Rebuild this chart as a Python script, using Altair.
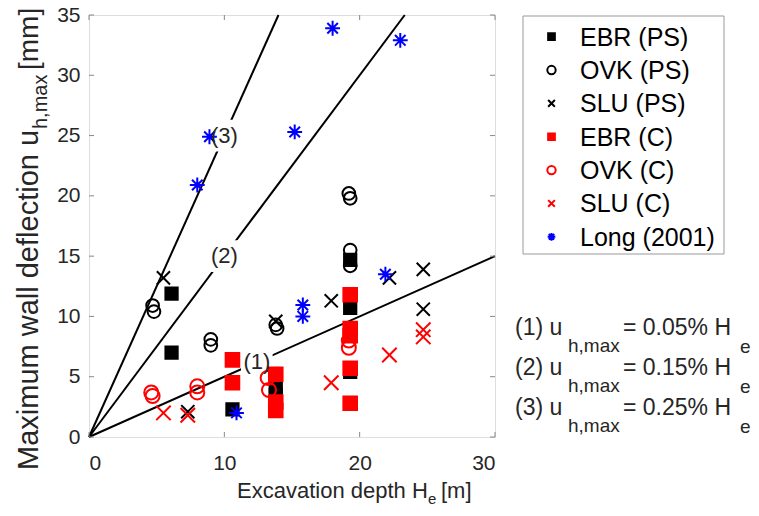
import altair as alt
import pandas as pd

# ---------------- data ----------------
series_names = ["EBR (PS)", "OVK (PS)", "SLU (PS)", "EBR (C)", "OVK (C)", "SLU (C)", "Long (2001)"]

ebr_ps_x = [6.1, 6.1, 10.6, 13.8, 13.8, 19.3, 19.3, 19.3]
ebr_ps_y = [11.9, 7.0, 2.3, 4.2, 3.5, 14.7, 10.7, 5.4]
ovk_ps_x = [4.7, 4.8, 9.0, 9.0, 13.8, 13.9, 19.2, 19.3, 19.3, 19.3]
ovk_ps_y = [10.9, 10.4, 8.1, 7.6, 9.3, 9.0, 20.2, 19.8, 15.5, 14.2]
slu_ps_x = [5.5, 7.3, 13.8, 17.9, 22.2, 24.7, 24.7]
slu_ps_y = [13.2, 2.1, 9.6, 11.3, 13.2, 13.9, 10.6]
ebr_c_x = [10.6, 10.6, 13.8, 13.8, 13.8, 19.3, 19.3, 19.3, 19.3, 19.3]
ebr_c_y = [6.4, 4.5, 5.2, 2.9, 2.2, 11.8, 9.0, 8.4, 5.7, 2.8]
ovk_c_x = [4.6, 4.7, 8.0, 8.0, 13.2, 13.3, 19.2, 19.2]
ovk_c_y = [3.7, 3.4, 4.2, 3.7, 4.9, 3.9, 8.0, 7.4]
slu_c_x = [5.5, 7.3, 17.9, 22.2, 24.7, 24.7]
slu_c_y = [2.0, 1.8, 4.5, 6.8, 8.9, 8.3]
long_x = [8.0, 8.9, 15.2, 18.0, 23.0, 15.8, 15.8, 21.9, 10.9]
long_y = [20.9, 24.9, 25.3, 33.9, 32.9, 10.95, 10.0, 13.5, 2.0]

series_x = [ebr_ps_x, ovk_ps_x, slu_ps_x, ebr_c_x, ovk_c_x, slu_c_x, long_x]
series_y = [ebr_ps_y, ovk_ps_y, slu_ps_y, ebr_c_y, ovk_c_y, slu_c_y, long_y]

# reference lines u = k * He
line_names = ["(1)", "(2)", "(3)"]
line_x_end = [30.0, 23.33, 14.0]
line_y_end = [15.0, 35.0, 35.0]
label_x = [12.4, 10.0, 10.0]
label_y = [6.2, 15.0, 25.0]

xtick_vals = [0, 10, 20, 30]
ytick_vals = [0, 5, 10, 15, 20, 25, 30, 35]

eq_left = ["(1) u", "(2) u", "(3) u"]
eq_right = ["= 0.05% H", "= 0.15% H", "= 0.25% H"]

# ---------------- layout ----------------
W, H = 406, 422
OX, OY = 89, 15  # page position of plot origin
FONT = "Liberation Sans"
TXT = "#262626"

rows = []
for name, xs, ys in zip(series_names, series_x, series_y):
    for xv, yv in zip(xs, ys):
        rows.append({"series": name, "x": xv, "y": yv})
pts = pd.DataFrame(rows)

lrows = []
for n, xe, ye in zip(line_names, line_x_end, line_y_end):
    lrows.append({"line": n, "x": 0.0, "y": 0.0})
    lrows.append({"line": n, "x": xe, "y": ye})
lines_df = pd.DataFrame(lrows)
labels_df = pd.DataFrame({"label": line_names, "x": label_x, "y": label_y})

xsc = alt.Scale(domain=[0, 30], nice=False, zero=False)
ysc = alt.Scale(domain=[0, 35], nice=False, zero=False)

X_PATH = "M-1,-1L1,1M-1,1L1,-1"
AST_PATH = "M-1,0L1,0M0,-1L0,1M-0.71,-0.71L0.71,0.71M-0.71,0.71L0.71,-0.71"
shapes = ["square", "circle", X_PATH, "square", "circle", X_PATH, AST_PATH]
strokes = ["black", "black", "black", "red", "red", "red", "blue"]
fills = ["black", "transparent", "transparent", "red", "transparent", "transparent", "transparent"]
sizes = [150, 220, 140, 150, 220, 140, 270]
leg_sizes = [45, 70, 45, 45, 70, 45, 60]

xaxis = alt.Axis(values=xtick_vals, title=None, grid=False, domain=False, ticks=False,
                 labelFontSize=21, labelFont=FONT, labelColor=TXT, labelPadding=15)
yaxis = alt.Axis(values=ytick_vals, title=None, grid=False, domain=False, ticks=False,
                 labelFontSize=21, labelFont=FONT, labelColor=TXT, labelPadding=9)

lines = alt.Chart(lines_df).mark_line(color="black", strokeWidth=2).encode(
    x=alt.X("x:Q", scale=xsc), y=alt.Y("y:Q", scale=ysc), detail="line:N")

gaps = alt.Chart(labels_df).mark_square(size=1000, color="white", opacity=1).encode(
    x=alt.X("x:Q", scale=xsc), y=alt.Y("y:Q", scale=ysc))

points = alt.Chart(pts).mark_point(strokeWidth=2, opacity=1).encode(
    x=alt.X("x:Q", scale=xsc, axis=xaxis),
    y=alt.Y("y:Q", scale=ysc, axis=yaxis),
    shape=alt.Shape("series:N", scale=alt.Scale(domain=series_names, range=shapes), legend=None),
    stroke=alt.Stroke("series:N", scale=alt.Scale(domain=series_names, range=strokes), legend=None),
    fill=alt.Fill("series:N", scale=alt.Scale(domain=series_names, range=fills), legend=None),
    size=alt.Size("series:N", scale=alt.Scale(domain=series_names, range=sizes), legend=None),
)

labels = alt.Chart(labels_df).mark_text(fontSize=22, font=FONT, color=TXT).encode(
    x=alt.X("x:Q", scale=xsc), y=alt.Y("y:Q", scale=ysc), text="label:N")

# inside ticks (MATLAB box style)
xt = pd.DataFrame({"x": xtick_vals})
yt = pd.DataFrame({"y": ytick_vals})
tk = dict(color="#888888", strokeWidth=1)
xt_bot = alt.Chart(xt).mark_rule(**tk).encode(x=alt.X("x:Q", scale=xsc), y=alt.value(H), y2=alt.value(H - 5))
xt_top = alt.Chart(xt).mark_rule(**tk).encode(x=alt.X("x:Q", scale=xsc), y=alt.value(0), y2=alt.value(5))
yt_l = alt.Chart(yt).mark_rule(**tk).encode(y=alt.Y("y:Q", scale=ysc), x=alt.value(0), x2=alt.value(5))
yt_r = alt.Chart(yt).mark_rule(**tk).encode(y=alt.Y("y:Q", scale=ysc), x=alt.value(W), x2=alt.value(W - 5))


def txt(s, px, py, size, angle=0, align="left", baseline="alphabetic", color=TXT):
    kw = dict(fontSize=size, font=FONT, color=color, align=align, baseline=baseline)
    if angle:
        kw["angle"] = angle
    return alt.Chart(pd.DataFrame({"t": [s]})).mark_text(**kw).encode(
        text="t:N", x=alt.value(px - OX), y=alt.value(py - OY))


texts = [
    # x title
    txt("Excavation depth H", 237, 498, 22),
    txt("e", 428, 504, 15),
    txt("[m]", 441, 498, 22),
    # y title (rotated)
    txt("Maximum wall deflection u", 38, 470, 29, angle=270),
    txt("h,max", 47, 129, 20, angle=270),
    txt("[mm]", 38, 70, 28, angle=270),
]
for i, (a, b) in enumerate(zip(eq_left, eq_right)):
    by = 335 + 40 * i
    texts += [
        txt(a, 515, by, 23),
        txt("h,max", 568, by + 17, 19),
        txt(b, 623, by, 23),
        txt("e", 740, by + 18, 19),
    ]

# legend box and entries
leg_box = alt.Chart(pd.DataFrame({"a": [0]})).mark_rect(
    fill="white", stroke="#999999", strokeWidth=1).encode(
    x=alt.value(523 - OX), x2=alt.value(724 - OX), y=alt.value(16 - OY), y2=alt.value(254 - OY))
legend_layers = [leg_box]
for i, name in enumerate(series_names):
    cy = 36.7 + 33.35 * i
    d = pd.DataFrame({"series": [name]})
    legend_layers.append(
        alt.Chart(d).mark_point(shape=shapes[i], fill=fills[i], stroke=strokes[i], strokeWidth=2,
                                size=leg_sizes[i], opacity=1, filled=False).encode(
            x=alt.value(551.5 - OX), y=alt.value(cy - OY)))
    legend_layers.append(
        alt.Chart(d).mark_text(fontSize=25, font=FONT, color="black", align="left", baseline="middle").encode(
            text="series:N", x=alt.value(580 - OX), y=alt.value(cy + 1 - OY)))

chart = alt.layer(lines, gaps, points, labels, xt_bot, xt_top, yt_l, yt_r, *texts, *legend_layers).properties(
    width=W, height=H,
    autosize=alt.AutoSizeParams(type="none"),
    padding={"left": OX - 8, "top": OY - 8, "right": 743 - (OX - 8) - W, "bottom": 500 - (OY - 8) - H},
).configure_view(stroke="#888888", strokeWidth=1).configure(background="white")

chart.save("out.html", embed_options={"renderer": "svg", "actions": False})
